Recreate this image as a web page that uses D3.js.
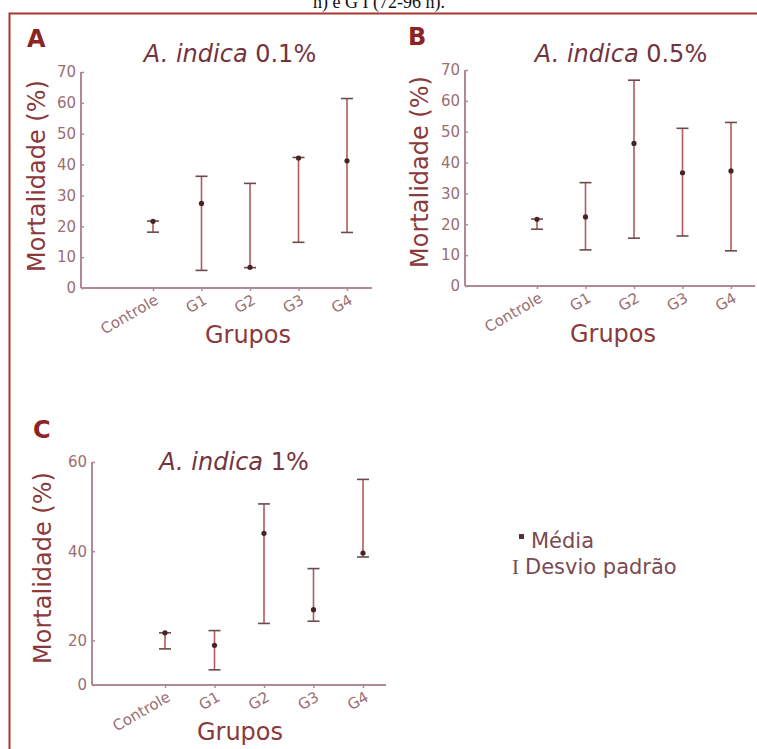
<!DOCTYPE html>
<html>
<head>
<meta charset="utf-8">
<script src="https://cdn.jsdelivr.net/npm/d3@7"></script>
<style>
body { margin: 0; background: #fff; }
svg { display: block; font-family: "DejaVu Sans", Verdana, sans-serif; }
</style>
</head>
<body>
<script>
var groups = ["Controle", "G1", "G2", "G3", "G4"];

// A. indica 0.1%
var meanA = [21.6, 27.4, 6.7, 42.1, 41.2];
var lowA  = [18.1, 5.7, 6.6, 14.8, 18.0];
var highA = [21.7, 36.2, 33.9, 42.3, 61.4];

// A. indica 0.5%
var meanB = [21.6, 22.4, 46.2, 36.7, 37.3];
var lowB  = [18.4, 11.7, 15.5, 16.2, 11.4];
var highB = [21.7, 33.5, 66.7, 51.1, 53.0];

// A. indica 1%  (axis of this panel starts at 10 but is labelled 0)
var meanC = [21.7, 18.9, 44.0, 26.9, 39.6];
var lowC  = [18.1, 13.4, 23.8, 24.3, 38.7];
var highC = [21.7, 22.2, 50.6, 36.1, 56.1];

var ticksAB = [0, 10, 20, 30, 40, 50, 60, 70];
var ticksC = [10, 20, 40, 60];
var tickLabelsC = ["0", "20", "40", "60"];

var panels = [
  {letter: "A", conc: "0.1%", mean: meanA, low: lowA, high: highA,
   domain: [0, 70], ticks: ticksAB, labels: null,
   ax: 81, axEnd: 372, yTop: 72, yBot: 288, cat: [153, 347],
   lx: 27, ly: 47, tx: 230, ty: 62, yl: 45, ylc: 176, gx: 248, gy: 343},
  {letter: "B", conc: "0.5%", mean: meanB, low: lowB, high: highB,
   domain: [0, 70], ticks: ticksAB, labels: null,
   ax: 465, axEnd: 755, yTop: 70, yBot: 286, cat: [537, 731],
   lx: 408, ly: 45, tx: 621, ty: 62, yl: 428, ylc: 172, gx: 613, gy: 342},
  {letter: "C", conc: "1%", mean: meanC, low: lowC, high: highC,
   domain: [10, 60], ticks: ticksC, labels: tickLabelsC,
   ax: 92, axEnd: 386, yTop: 462, yBot: 685, cat: [165, 363],
   lx: 33, ly: 438, tx: 234, ty: 470, yl: 51, ylc: 568, gx: 240, gy: 740}
];

var W = 757, H = 749;
var svg = d3.select("body").append("svg")
    .attr("width", W)
    .attr("height", H);

svg.append("rect").attr("width", W).attr("height", H).attr("fill", "#fff");

// caption of the page, cut off at the top
svg.append("text")
    .attr("x", 379)
    .attr("y", 8)
    .attr("text-anchor", "middle")
    .style("font-family", "'Liberation Serif', serif")
    .style("font-size", "18px")
    .attr("fill", "#111")
    .text("h) e G I (72-96 h).");

// frame
svg.append("path")
    .attr("d", "M9.5,749 V13.5 H757")
    .attr("fill", "none")
    .attr("stroke", "#a8352e")
    .attr("stroke-width", 2);

var axisColor = "#b08a90";
var labelColor = "#8a3a3a";
var tickColor = "#9a6e72";

panels.forEach(function(p) {
    var g = svg.append("g");

    var y = d3.scaleLinear().domain(p.domain).range([p.yBot, p.yTop]);
    var x = d3.scalePoint().domain(groups).range(p.cat);

    // y axis
    var yAxis = d3.axisLeft(y)
        .tickValues(p.ticks)
        .tickSize(-3)
        .tickSizeOuter(0)
        .tickPadding(5);
    if (p.labels) yAxis.tickFormat(function(d, i) { return p.labels[i]; });

    var ya = g.append("g")
        .attr("transform", "translate(" + p.ax + ",0)")
        .call(yAxis);
    ya.select(".domain").remove();
    ya.selectAll("line").attr("stroke", axisColor).attr("stroke-width", 1.5);
    ya.selectAll("text")
        .attr("fill", tickColor)
        .style("font-size", "15px")
        .style("font-family", "'DejaVu Sans', sans-serif");

    // x axis
    var xAxis = d3.axisBottom(x).tickSize(3).tickSizeOuter(0);
    var xa = g.append("g")
        .attr("transform", "translate(0," + p.yBot + ")")
        .call(xAxis);
    xa.select(".domain").remove();
    xa.selectAll("line").attr("stroke", axisColor).attr("stroke-width", 1.5);
    xa.selectAll("text")
        .attr("fill", tickColor)
        .style("font-size", "15px")
        .style("font-family", "'DejaVu Sans', sans-serif")
        .attr("text-anchor", "end")
        .attr("dy", 0)
        .attr("y", 0)
        .attr("transform", "translate(6,15) rotate(-30)");

    // axis lines
    g.append("line")
        .attr("x1", p.ax).attr("x2", p.ax)
        .attr("y1", p.yTop).attr("y2", p.yBot)
        .attr("stroke", axisColor).attr("stroke-width", 2);
    g.append("line")
        .attr("x1", p.ax).attr("x2", p.axEnd)
        .attr("y1", p.yBot).attr("y2", p.yBot)
        .attr("stroke", axisColor).attr("stroke-width", 2);

    // error bars
    var bars = g.selectAll(".bar")
        .data(groups)
        .enter().append("g")
        .attr("class", "bar");

    bars.append("line")
        .attr("x1", function(d) { return x(d); })
        .attr("x2", function(d) { return x(d); })
        .attr("y1", function(d, i) { return y(p.low[i]); })
        .attr("y2", function(d, i) { return y(p.high[i]); })
        .attr("stroke", "#b35a5a")
        .attr("stroke-width", 1.6);

    bars.append("line")
        .attr("x1", function(d) { return x(d) - 6; })
        .attr("x2", function(d) { return x(d) + 6; })
        .attr("y1", function(d, i) { return y(p.high[i]); })
        .attr("y2", function(d, i) { return y(p.high[i]); })
        .attr("stroke", "#6e4a4c")
        .attr("stroke-width", 1.6);

    bars.append("line")
        .attr("x1", function(d) { return x(d) - 6; })
        .attr("x2", function(d) { return x(d) + 6; })
        .attr("y1", function(d, i) { return y(p.low[i]); })
        .attr("y2", function(d, i) { return y(p.low[i]); })
        .attr("stroke", "#6e4a4c")
        .attr("stroke-width", 1.6);

    bars.append("circle")
        .attr("cx", function(d) { return x(d); })
        .attr("cy", function(d, i) { return y(p.mean[i]); })
        .attr("r", 2.6)
        .attr("fill", "#4a2224");

    // panel letter
    g.append("text")
        .attr("x", p.lx).attr("y", p.ly)
        .style("font-size", "24px")
        .style("font-weight", "bold")
        .attr("fill", "#8c2424")
        .text(p.letter);

    // title
    var t = g.append("text")
        .attr("x", p.tx).attr("y", p.ty)
        .attr("text-anchor", "middle")
        .style("font-size", "24px")
        .attr("fill", "#74343e");
    t.append("tspan").style("font-style", "italic").text("A. indica");
    t.append("tspan").text(" " + p.conc);

    // y label
    g.append("text")
        .attr("transform", "translate(" + p.yl + "," + p.ylc + ") rotate(-90)")
        .attr("text-anchor", "middle")
        .style("font-size", "24px")
        .attr("fill", labelColor)
        .text("Mortalidade (%)");

    // x label
    g.append("text")
        .attr("x", p.gx).attr("y", p.gy)
        .attr("text-anchor", "middle")
        .style("font-size", "24px")
        .attr("fill", labelColor)
        .text("Grupos");
});

// legend
var legend = svg.append("g").attr("fill", "#7a4a52").style("font-size", "21px");
legend.append("rect")
    .attr("x", 519).attr("y", 534)
    .attr("width", 5).attr("height", 5)
    .attr("fill", "#5a3034");
legend.append("text").attr("x", 531).attr("y", 548).text("Média");
legend.append("text").attr("x", 512).attr("y", 574)
    .style("font-family", "'Liberation Serif', serif")
    .text("I");
legend.append("text").attr("x", 525).attr("y", 574).text("Desvio padrão");
</script>
</body>
</html>
